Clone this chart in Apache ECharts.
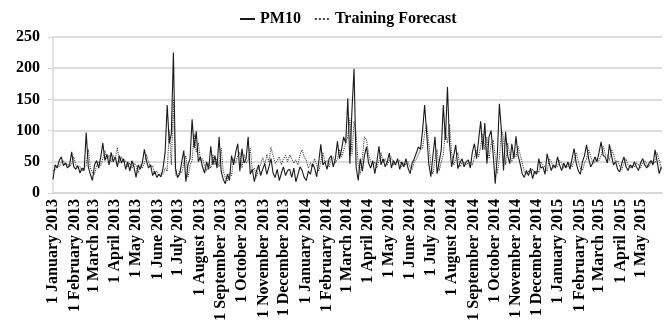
<!DOCTYPE html>
<html>
<head>
<meta charset="utf-8">
<script src="https://cdn.jsdelivr.net/npm/echarts@6/dist/echarts.min.js"></script>
<style>
html,body{margin:0;padding:0;background:#fff;}
#chart{width:670px;height:327px;}
</style>
</head>
<body>
<div id="chart"></div>
<script>
// Daily category axis: 1 January 2013 .. 30 May 2015
const startDate = [2013, 0, 1];
const dayCount = 881;
// Values read every 3 days (day index = 3 * position)
const sampleStepDays = 3;
const monthNames = ['January','February','March','April','May','June','July','August','September','October','November','December'];
const yTicks = [0, 50, 100, 150, 200, 250];
const seriesNames = ['PM10', 'Training Forecast'];

const pm10 = [
  22,45,40,52,58,44,48,40,45,66,
  42,38,44,32,40,36,97,42,30,20,
  45,52,40,58,80,52,62,45,65,50,
  58,42,60,48,55,38,50,35,52,42,
  25,45,38,48,70,52,40,45,28,35,
  25,30,26,40,65,141,80,95,225,40,
  25,30,50,68,18,45,55,118,72,99,
  50,58,42,32,50,38,75,45,60,40,
  90,35,22,15,30,20,60,45,65,79,
  35,71,48,55,90,30,38,18,35,45,
  28,38,47,30,42,55,32,25,38,20,
  32,42,28,36,38,25,40,18,30,42,
  36,25,20,35,30,47,40,26,50,78,
  45,50,38,55,60,42,55,83,55,70,
  90,80,152,47,133,199,42,20,55,35,
  60,74,48,40,52,31,50,75,45,55,
  42,50,64,40,52,45,55,38,50,42,
  55,40,31,48,55,64,74,70,100,141,
  95,47,26,60,90,31,50,69,141,85,
  170,79,42,60,77,39,48,55,42,50,
  53,40,66,79,55,85,115,69,112,47,
  90,100,63,15,60,143,100,36,98,60,
  47,79,55,91,60,47,31,25,36,28,
  40,23,35,30,55,40,42,30,63,48,
  36,45,40,58,45,36,48,40,50,38,
  55,71,48,36,30,50,60,77,55,42,
  48,58,50,65,82,60,58,48,78,60,
  45,50,38,34,48,58,42,36,45,40,
  50,42,36,48,55,45,40,47,52,45,
  69,50,31,42
];

const forecast = [
  35,38,44,42,50,52,46,47,42,46,
  58,44,40,42,36,40,45,70,40,33,
  30,44,50,44,55,68,55,60,50,60,
  55,73,48,58,50,52,42,48,40,48,
  44,32,45,40,48,62,50,42,44,30,
  35,28,32,30,40,35,100,45,150,30,
  25,35,32,48,60,25,44,52,95,65,
  80,52,55,44,35,48,40,62,45,55,
  42,72,35,25,20,32,28,55,48,60,
  65,40,62,48,52,72,36,40,25,40,
  45,58,45,62,50,73,60,48,52,58,
  45,55,60,50,61,55,48,53,45,62,
  69,58,52,40,48,42,55,45,35,50,
  65,50,52,42,55,58,48,55,70,58,
  68,80,90,120,60,115,95,45,30,55,
  90,85,62,50,45,50,40,52,65,48,
  55,45,52,58,45,50,48,52,42,48,
  45,50,42,38,50,55,62,70,72,95,
  110,80,45,30,55,70,35,50,62,100,
  80,110,65,45,55,65,42,48,50,45,
  48,50,45,58,68,58,75,95,70,90,
  55,78,85,60,30,55,100,90,45,80,
  62,50,65,58,75,62,48,35,30,35,
  32,38,30,35,33,50,45,42,35,55,
  50,40,45,42,52,48,40,45,42,48,
  42,52,65,50,40,36,48,55,70,58,
  48,50,55,52,60,75,62,60,52,70,
  62,50,52,42,38,48,55,45,40,45,
  42,48,45,40,48,52,45,42,48,50,
  48,65,52,38
];

function pad(n){ return n < 10 ? '0' + n : '' + n; }
const categories = [];
for (let i = 0; i < dayCount; i++) {
  const dt = new Date(Date.UTC(startDate[0], startDate[1], startDate[2] + i));
  categories.push(dt.getUTCFullYear() + '-' + pad(dt.getUTCMonth() + 1) + '-' + pad(dt.getUTCDate()));
}
function toPairs(arr){ return arr.map((v, k) => [k * sampleStepDays, v]); }

const font = "'Liberation Serif', 'Times New Roman', serif";
const chart = echarts.init(document.getElementById('chart'), null, {renderer: 'canvas'});
chart.setOption({
  animation: false,
  backgroundColor: '#ffffff',
  legend: {
    data: seriesNames,
    left: 234,
    top: 6,
    itemWidth: 15,
    itemHeight: 12,
    itemGap: 13,
    itemStyle: {opacity: 0, borderWidth: 0},
    textStyle: {fontFamily: font, fontWeight: 'bold', fontSize: 16, color: '#000'}
  },
  grid: {left: 53, right: 8, top: 37, bottom: 134, containLabel: false},
  xAxis: {
    type: 'category',
    data: categories,
    boundaryGap: false,
    axisLine: {show: true, lineStyle: {color: '#d9d9d9', width: 2}},
    axisTick: {show: false},
    splitLine: {show: false},
    axisLabel: {
      interval: function (idx, val) { return val.slice(8) === '01'; },
      rotate: 90,
      margin: 6,
      fontFamily: font, fontWeight: 'bold', fontSize: 16, color: '#000',
      formatter: function (val) {
        const p = val.split('-');
        return parseInt(p[2], 10) + ' ' + monthNames[parseInt(p[1], 10) - 1] + ' ' + p[0];
      }
    }
  },
  yAxis: {
    type: 'value',
    min: yTicks[0],
    max: yTicks[yTicks.length - 1],
    interval: yTicks[1] - yTicks[0],
    axisLine: {show: true, lineStyle: {color: '#d9d9d9', width: 1.5}},
    axisTick: {show: true, length: 5, lineStyle: {color: '#d9d9d9'}},
    splitLine: {show: true, lineStyle: {color: '#dcdcdc', width: 2}},
    axisLabel: {margin: 13, fontFamily: font, fontWeight: 'bold', fontSize: 16, color: '#000'}
  },
  series: [
    {
      name: seriesNames[0],
      type: 'line',
      data: toPairs(pm10),
      symbol: 'none',
      lineStyle: {color: '#1a1a1a', width: 1.1, type: 'solid'},
      itemStyle: {color: '#1a1a1a'},
      z: 3
    },
    {
      name: seriesNames[1],
      type: 'line',
      data: toPairs(forecast),
      symbol: 'none',
      lineStyle: {color: '#444', width: 1.1, type: 'dotted'},
      itemStyle: {color: '#444'},
      z: 2
    }
  ]
});
</script>
</body>
</html>
